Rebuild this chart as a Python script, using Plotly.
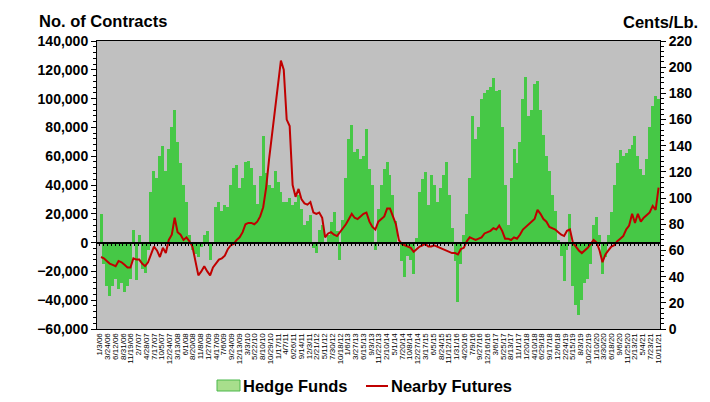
import pandas as pd
import plotly.graph_objects as go

#   Monthly readings, Jan 2006 .. Oct 2021
months = pd.date_range("2006-01-01", "2021-10-01", freq="MS")

#   Hedge fund net position (contracts)
hedge_funds = [
    # 2006
    20000, -15000, -30000, -37000, -30000, -25000, -32000, -28000, -34000, -30000, -25000, 9000,
    # 2007
    -26000, 5000, -18000, -21000, -5000, 35000, 50000, 45000, 60000, 67000, 50000, 65000,
    # 2008
    80000, 92000, 70000, 55000, 40000, 28000, 5000, -5000, -8000, -10000, -3000, 5000,
    # 2009
    8000, -12000, 0, 25000, 28000, 22000, 26000, 25000, 40000, 52000, 54000, 38000,
    # 2010
    45000, 56000, 57000, 52000, 40000, 27000, 46000, 74000, 48000, 40000, 38000, 50000,
    # 2011
    42000, 35000, 28000, 28000, 31000, 26000, 28000, 33000, 23000, 12000, 15000, 19000,
    # 2012
    -4000, -7000, 9000, 12000, 0, 5000, 14000, 21000, 8000, -12000, 16000, 45000,
    # 2013
    72000, 82000, 63000, 65000, 58000, 60000, 79000, 51000, 40000, -5000, 23000, 40000,
    # 2014
    51000, 56000, 47000, 33000, 15000, 0, -13000, -24000, -9000, -12000, -22000, 3000,
    # 2015
    35000, 44000, 49000, 26000, 47000, 40000, 28000, 38000, 47000, 56000, 33000, 10000,
    # 2016
    -13000, -41000, -15000, 5000, 20000, 45000, 88000, 72000, 80000, 100000, 104000, 106000,
    # 2017
    108000, 114000, 105000, 106000, 80000, 40000, 12000, 45000, 65000, 55000, 70000, 100000,
    # 2018
    115000, 88000, 92000, 110000, 112000, 92000, 75000, 60000, 50000, 33000, 22000, 2000,
    # 2019
    -9000, -27000, -5000, 20000, -30000, -43000, -50000, -40000, -28000, -25000, -15000, 12000,
    # 2020
    18000, 5000, -22000, -10000, 5000, 21000, 40000, 55000, 64000, 60000, 62000, 65000,
    # 2021
    68000, 74000, 60000, 51000, 47000, 58000, 80000, 95000, 102000, 100000,
]

#   Nearby futures price (cents/lb)
nearby_futures = [
    # 2006
    55, 54, 52, 50, 49, 48, 52, 51, 49, 47, 47, 54,
    # 2007
    53, 53, 50, 48, 51, 57, 63, 60, 55, 62, 58, 68,
    # 2008
    72, 85, 74, 72, 68, 70, 67, 63, 52, 41, 44, 48,
    # 2009
    44, 41, 47, 50, 53, 54, 56, 61, 64, 65, 68, 70,
    # 2010
    74, 80, 81, 81, 80, 82, 86, 93, 108, 130, 150, 165,
    # 2011
    190, 205, 198, 160, 155, 110, 101, 107, 99, 96, 95, 97,
    # 2012
    89, 88, 89, 85, 70, 73, 74, 72, 71, 74, 77, 80,
    # 2013
    84, 88, 85, 84, 86, 88, 89, 82, 78, 76, 82, 84,
    # 2014
    86, 92, 92, 86, 80, 68, 65, 64, 63, 62, 59, 61,
    # 2015
    63, 64, 65, 63, 63, 64, 63, 62, 61, 60, 59, 58,
    # 2016
    58, 57, 61, 62, 67, 70, 69, 68, 69, 70, 73, 74,
    # 2017
    75, 77, 76, 79, 75, 69, 69, 68, 70, 69, 72, 76,
    # 2018
    78, 80, 82, 84, 91, 88, 84, 82, 78, 77, 76, 74,
    # 2019
    72, 71, 75, 76, 66, 63, 60, 58, 60, 62, 65, 68,
    # 2020
    66, 60, 51, 57, 60, 63, 64, 67, 69, 71, 76, 79,
    # 2021
    88, 81, 88, 82, 85, 87, 89, 94, 91, 108,
]

#   Date labels along the bottom (every 80 days)
tick_labels = [
    "1/3/06", "3/24/06", "6/12/06", "8/31/06", "11/19/06", "2/7/07", "4/28/07", "7/17/07",
    "10/5/07", "12/24/07", "3/13/08", "6/1/08", "8/20/08", "11/8/08", "1/27/09", "4/17/09",
    "7/6/09", "9/24/09", "12/13/09", "3/3/10", "5/22/10", "8/10/10", "10/29/10", "1/17/11",
    "4/7/11", "6/26/11", "9/14/11", "12/3/11", "2/21/12", "5/11/12", "7/30/12", "10/18/12",
    "1/6/13", "3/27/13", "6/15/13", "9/3/13", "11/22/13", "2/10/14", "5/1/14", "7/20/14",
    "10/8/14", "12/27/14", "3/17/15", "6/5/15", "8/24/15", "11/12/15", "1/31/16", "4/20/16",
    "7/9/16", "9/27/16", "12/16/16", "3/6/17", "5/25/17", "8/13/17", "11/1/17", "1/20/18",
    "4/10/18", "6/29/18", "9/17/18", "12/6/18", "2/24/19", "5/15/19", "8/3/19", "10/22/19",
    "1/10/20", "3/30/20", "6/18/20", "9/6/20", "11/25/20", "2/13/21", "5/4/21", "7/23/21",
    "10/11/21",
]
tick_dates = pd.to_datetime(tick_labels, format="%m/%d/%y")

FONT = "Liberation Sans"
DAY_MS = 86400000
X_RANGE = ["2005-12-06", "2021-10-31"]
GREEN = "#46C846"
RED = "#C00000"

#   the page body has an 8px margin, so the figure is drawn 8px smaller
#   and every window position below is shifted by that amount
PAGE = 8
W, H = 710 - PAGE, 402 - PAGE
#   plot area in window pixels
L, R, T, B = 97, 660, 41, 329


def px_x(p):
    return (p - L) / (R - L)


def px_y(p):
    return (B - p) / (B - T)


fig = go.Figure()

fig.add_trace(go.Bar(
    x=months, y=hedge_funds, name="Hedge Funds",
    xperiod="M1", xperiodalignment="middle",
    width=31 * DAY_MS,
    marker=dict(color=GREEN, line=dict(width=0)),
))

fig.add_trace(go.Scatter(
    x=months, y=nearby_futures, name="Nearby Futures", yaxis="y2",
    xperiod="M1", xperiodalignment="middle",
    mode="lines", line=dict(color=RED, width=2),
))

#   invisible point so the zero-line axis gets drawn
fig.add_trace(go.Scatter(
    x=[months[0]], y=[0], xaxis="x2", mode="markers",
    marker=dict(opacity=0), hoverinfo="skip",
))

fig.update_layout(
    width=W, height=H,
    margin=dict(l=L - PAGE, r=W - (R - PAGE), t=T - PAGE, b=H - (B - PAGE)),
    paper_bgcolor="white",
    plot_bgcolor="#C0C0C0",
    bargap=0,
    showlegend=False,
    font=dict(family=FONT, color="black"),
    xaxis=dict(
        type="date", range=X_RANGE,
        tickvals=tick_dates, ticktext=tick_labels,
        tickangle=-90, tickfont=dict(size=8),
        ticks="", showgrid=False, zeroline=False,
        showline=True, mirror=True, linecolor="black", linewidth=1,
    ),
    #   axis drawn along the zero line, carrying the small tick marks
    xaxis2=dict(
        type="date", overlaying="x", anchor="free", position=0.3,
        range=X_RANGE,
        tick0="2006-01-03", dtick=40 * DAY_MS,
        ticks="outside", ticklen=3, tickcolor="black",
        showticklabels=False, showgrid=False, zeroline=False,
        showline=True, linecolor="black", linewidth=1.5,
    ),
    yaxis=dict(
        range=[-60000, 140000], dtick=20000, tickformat=",",
        tickfont=dict(size=14, weight="bold"),
        ticks="outside", ticklen=5, tickcolor="black",
        minor=dict(dtick=4000, ticks="outside", ticklen=3, tickcolor="black"),
        showgrid=False, zeroline=True, zerolinecolor="black", zerolinewidth=1.5,
        showline=True, mirror=True, linecolor="black", linewidth=1,
    ),
    yaxis2=dict(
        range=[0, 220], dtick=20, overlaying="y", side="right",
        tickfont=dict(size=14, weight="bold"),
        ticks="outside", ticklen=5, tickcolor="black",
        minor=dict(dtick=4, ticks="outside", ticklen=3, tickcolor="black"),
        showgrid=False, zeroline=False,
        showline=True, linecolor="black", linewidth=1,
    ),
    annotations=[
        dict(text="<b>No. of Contracts</b>", xref="paper", yref="paper",
             x=px_x(103), y=px_y(21), xanchor="center", yanchor="middle",
             showarrow=False, font=dict(size=16.5)),
        dict(text="<b>Cents/Lb.</b>", xref="paper", yref="paper",
             x=px_x(660), y=px_y(22), xanchor="center", yanchor="middle",
             showarrow=False, font=dict(size=16.5)),
        dict(text="<b>Hedge Funds</b>", xref="paper", yref="paper",
             x=px_x(241), y=px_y(386), xanchor="left", yanchor="middle",
             showarrow=False, font=dict(size=16.5)),
        dict(text="<b>Nearby Futures</b>", xref="paper", yref="paper",
             x=px_x(389), y=px_y(386), xanchor="left", yanchor="middle",
             showarrow=False, font=dict(size=16.5)),
    ],
    shapes=[
        dict(type="rect", xref="paper", yref="paper",
             x0=px_x(217), x1=px_x(240), y0=px_y(391), y1=px_y(380),
             fillcolor="#A8DE8C", line=dict(color="#4CB84C", width=1)),
        dict(type="line", xref="paper", yref="paper",
             x0=px_x(366), x1=px_x(388), y0=px_y(386), y1=px_y(386),
             line=dict(color=RED, width=2)),
    ],
)

fig.write_html("out.html")
